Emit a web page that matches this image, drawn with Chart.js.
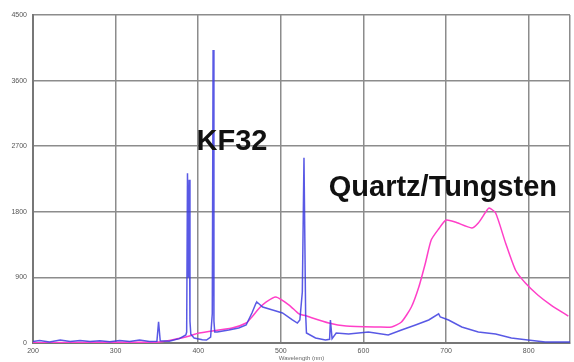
<!DOCTYPE html>
<html>
<head>
<meta charset="utf-8">
<script src="https://cdn.jsdelivr.net/npm/chart.js@4"></script>
<style>
  html, body { margin: 0; padding: 0; background: #fff; }
  #wrap { width: 574px; height: 362px; }
</style>
</head>
<body>
<div id="wrap"><canvas id="spectrumChart"></canvas></div>
<script>
// Wavelength (nm) and intensity
const kfWave = [200, 208, 220, 233, 245, 257, 269, 281, 293, 305, 317, 329, 341, 350, 352, 354, 365, 377,
  385, 386, 387, 388, 389, 390, 391, 395, 405, 410, 415, 417, 418, 419, 420, 423, 437, 449, 458, 465, 470,
  471, 478, 490, 502, 514, 520, 523, 526, 528, 530, 531, 542, 554, 559, 560, 562, 567, 582, 606, 630, 646,
  663, 679, 691, 693, 703, 719, 739, 760, 779, 799, 820, 850];
const kfValue = [20, 35, 15, 40, 20, 35, 20, 30, 18, 35, 20, 40, 22, 25, 290, 30, 25, 60,
  110, 150, 2330, 900, 2240, 300, 120, 69, 45, 41, 82, 400, 4020, 300, 150, 150, 178, 206, 247, 412, 549,
  562, 494, 453, 412, 316, 274, 316, 700, 2540, 400, 137, 69, 41, 50, 316, 60, 137, 123, 151, 110, 178,
  247, 316, 400, 357, 316, 220, 151, 123, 69, 41, 14, 14];

const qtWave = [200, 281, 353, 386, 401, 441, 458, 465, 474, 482, 494, 510, 522, 528, 558, 579, 618, 634,
  646, 658, 667, 675, 682, 691, 700, 711, 731, 739, 748, 752, 760, 772, 784, 796, 811, 827, 848];
const qtValue = [5, 10, 15, 86, 137, 206, 274, 357, 480, 562, 631, 521, 398, 380, 274, 233, 220, 220,
  288, 494, 768, 1098, 1413, 1564, 1687, 1660, 1578, 1646, 1797, 1852, 1783, 1372, 1002, 823, 659, 521, 370];

const yTicks = [0, 900, 1800, 2700, 3600, 4500];

// Text labels next to each curve
const notes = [
  { text: "KF32", x: 398, y: 2650 },
  { text: "Quartz/Tungsten", x: 558, y: 2020 }
];

const toPoints = (xs, ys) => xs.map((x, i) => ({ x, y: ys[i] }));

const labelPlugin = {
  id: "curveLabels",
  afterDatasetsDraw(chart) {
    const ctx = chart.ctx;
    const xs = chart.scales.x, ys = chart.scales.y;
    ctx.save();
    ctx.fillStyle = "#111";
    ctx.font = "bold 29px 'Liberation Sans', Arial, sans-serif";
    ctx.textBaseline = "alphabetic";
    notes.forEach(n => ctx.fillText(n.text, xs.getPixelForValue(n.x), ys.getPixelForValue(n.y)));
    ctx.restore();
  }
};

new Chart(document.getElementById("spectrumChart"), {
  type: "line",
  data: {
    datasets: [
      {
        label: "KF32",
        data: toPoints(kfWave, kfValue),
        borderColor: "rgba(60,60,225,0.85)",
        borderWidth: 1.5,
        pointRadius: 0,
        tension: 0
      },
      {
        label: "Quartz/Tungsten",
        data: toPoints(qtWave, qtValue),
        borderColor: "#ff3fc8",
        borderWidth: 1.5,
        pointRadius: 0,
        tension: 0.2
      }
    ]
  },
  options: {
    responsive: true,
    maintainAspectRatio: false,
    animation: false,
    layout: { padding: { top: 15, right: 2, left: 0, bottom: 0 } },
    plugins: { legend: { display: false }, tooltip: { enabled: false } },
    scales: {
      x: {
        type: "linear",
        min: 200,
        max: 850,
        afterFit: s => { s.height = 19; },
        border: { color: "#777", width: 2 },
        grid: { color: "#8c8c8c", lineWidth: 1.5, drawTicks: false },
        ticks: {
          stepSize: 100,
          padding: 4,
          color: "#555",
          font: { size: 7, family: "'Liberation Sans', Arial" },
          callback: v => (v % 100 === 0 ? String(v) : "")
        },
        title: {
          display: true,
          text: "Wavelength (nm)",
          color: "#666",
          padding: 0,
          font: { size: 6, family: "'Liberation Sans', Arial" }
        }
      },
      y: {
        min: 0,
        max: 4500,
        afterFit: s => { s.width = 33; },
        afterBuildTicks: s => { s.ticks = yTicks.map(v => ({ value: v })); },
        border: { color: "#777", width: 2 },
        grid: { color: "#8c8c8c", lineWidth: 1.5, drawTicks: false },
        ticks: {
          padding: 6,
          color: "#555",
          font: { size: 7, family: "'Liberation Sans', Arial" },
          callback: v => String(v)
        }
      }
    }
  },
  plugins: [labelPlugin]
});
</script>
</body>
</html>
